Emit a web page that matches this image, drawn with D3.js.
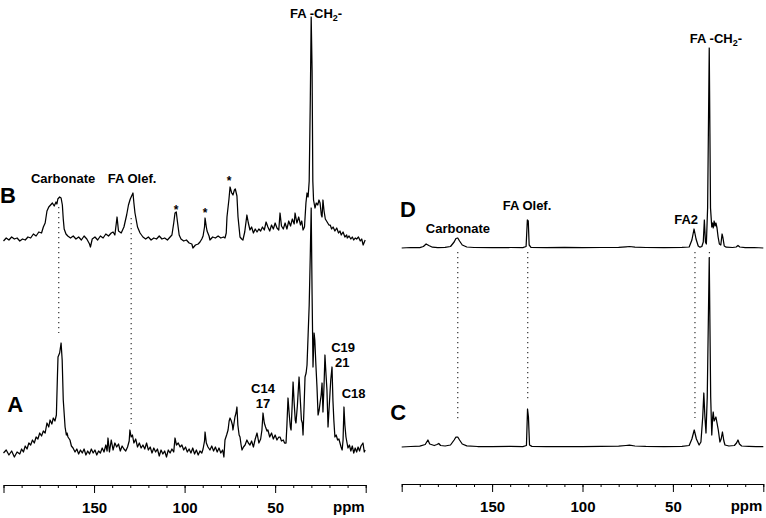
<!DOCTYPE html>
<html>
<head>
<meta charset="utf-8">
<script src="https://cdn.jsdelivr.net/npm/d3@7"></script>
<style>
  html, body { margin: 0; padding: 0; background: #fff; }
  svg { display: block; font-family: 'Liberation Sans', Arial, sans-serif; }
  .spec { fill: none; stroke: #000; stroke-width: 1.25; stroke-linejoin: round; }
  .guide { stroke: #333; stroke-width: 1.2; stroke-dasharray: 1.3 3.7; }
  .lbl { font-weight: bold; font-size: 13px; fill: #000; }
  .big { font-weight: bold; font-size: 22px; fill: #000; }
  .axis path, .axis line { stroke: #000; stroke-width: 1; }
  .axis text { font-weight: bold; font-size: 15px; fill: #000; font-family: 'Liberation Sans', Arial, sans-serif; }
</style>
</head>
<body>
<svg id="chart" width="766" height="518"></svg>
<script>
// ppm axis
const majorTicks = [200, 150, 100, 50, 0]
const majorLabels = ['', '150', '100', '50', '']
const minorTicks = [200, 190, 180, 170, 160, 150, 140, 130, 120, 110, 100, 90, 80, 70, 60, 50, 40, 30, 20, 10, 0]

// [ppm, intensity]
const spectrumB = [
  [200, 0], [198.5, 3], [197, 1], [195.5, 4], [194, 2], [192.5, 3], [191, 0], [189.5, 2], [188, 1], [186.5, 4],
  [185, 3], [183.5, 7], [182, 5], [180.5, 9], [179, 8], [178, 14], [177, 18], [176, 30], [175, 34], [174, 36],
  [173, 38], [172, 35], [171, 39], [170.5, 37], [170, 42], [169, 44], [168.2, 43], [167.5, 36], [167, 22], [166.5, 12],
  [165.5, 7], [164.5, 5], [163, 3], [161.5, 5], [160, 2], [158.5, 4], [157, 1], [155.5, 5], [154, 2], [152.5, -3],
  [152, -6], [151, 2], [149.5, 4], [148, 1], [146.5, 5], [145, 3], [143.5, 7], [142, 5], [140.5, 8], [139.5, 9],
  [138.5, 6], [137.3, 24], [136.5, 10], [135, 8], [133.5, 14], [132, 26], [131, 36], [130, 42], [129, 46], [128.5, 48],
  [128, 38], [127.4, 28], [126, 14], [124.6, 8], [123, 4], [121.5, 2], [120, 4], [118.5, 1], [117, 3], [115.5, 2],
  [114, 5], [112.5, 2], [111, 3], [109.5, 1], [108, 4], [107, 6], [106, 18], [105.3, 28], [104.6, 29], [104, 20],
  [103, 6], [102, 2], [100.5, 0], [99, 1], [97.5, -2], [96, -3], [95.4, -7], [94, -4], [92.5, -3], [91.5, -1],
  [90.5, 2], [89.8, 5], [89, 14], [88.7, 23], [88, 14], [87.6, 10], [86.5, 5], [86, 1], [84.5, 4], [83, 3],
  [81.5, 5], [80, 3], [78.5, 4], [77.7, 3], [77, 8], [76.6, 24], [75.5, 42], [74.9, 54], [74, 48], [73.3, 46],
  [72.5, 51], [72, 52], [71.1, 45], [70.5, 24], [69.4, 4], [68.5, 2], [67.8, 1], [66.8, 9], [65.6, 26], [64.8, 18],
  [63.9, 11], [63, 14], [62, 8], [61, 12], [60, 9], [59, 12], [58, 10], [57, 14], [56, 11], [55, 19],
  [54, 14], [53, 10], [52, 16], [51, 12], [50, 18], [49, 13], [48, 11], [47.3, 28], [46.5, 15], [45.5, 12],
  [44.5, 18], [43.5, 12], [42.5, 20], [41.5, 15], [40.5, 22], [39.5, 17], [39, 28], [38, 18], [37, 24], [36, 16],
  [35.3, 20], [34.6, 11], [33.8, 14], [33, 38], [32.4, 48], [31.8, 44], [31.2, 60], [30.6, 140], [30.1, 224], [29.6, 170],
  [29.2, 60], [28.8, 41], [28, 33], [27.3, 38], [26.5, 36], [25.8, 41], [25.2, 38], [24.5, 26], [24.1, 24], [23.6, 41],
  [23, 30], [22.3, 22], [21.3, 19], [20.3, 16], [19.6, 16], [18.8, 12], [18, 14], [17, 10], [16, 13], [15, 8],
  [14.2, 10], [13.5, 6], [12.5, 9], [11.5, 4], [10.5, 6], [10.2, 3], [9.2, 5], [8.2, 2], [7.4, 4], [6.6, 1],
  [5.8, 3], [5, 2], [4, 4], [3, 0], [2.2, 2], [1.4, -4], [0.3, 1]
]

const spectrumA = [
  [200, 2], [198.5, 5], [197, 0], [195.5, 4], [194, -2], [192.5, 3], [191, 1], [190, 6], [189, 3], [188, 9],
  [187, 6], [186, 12], [185, 10], [184, 15], [183, 12], [182, 18], [181, 16], [180, 22], [179, 19], [178, 24],
  [177, 22], [176, 32], [175, 28], [174.3, 35], [173.3, 31], [172.5, 37], [171.6, 34], [170.8, 40], [170.2, 80], [169.9, 98],
  [169, 102], [168.2, 112], [167.6, 95], [167, 55], [166, 28], [165.3, 20], [164.9, 22], [164.4, 18], [163.3, 15], [162.5, 9],
  [161.6, 7], [160.5, 3], [159.5, 6], [158.5, 1], [157.5, 5], [156.5, 2], [155.5, 6], [154.5, 0], [153.5, 4], [152.5, 1],
  [151.5, 6], [150.5, 2], [149.5, 5], [148.5, 0], [147.5, 4], [146.5, 2], [145.5, 7], [144.5, 3], [143.5, 10], [142.8, 4],
  [142.3, 17], [141.5, 3], [140.5, 15], [139.5, 5], [138.5, 12], [137.5, 8], [136.5, 11], [135.5, 4], [134.5, 9], [133.5, 6],
  [132.5, 4], [131.5, 8], [130.6, 14], [130.2, 25], [129.5, 18], [128.8, 20], [128, 12], [127, 16], [126, 8], [125, 12],
  [124, 7], [123, 10], [122, 6], [121, 12], [120, 5], [119, 8], [118, 2], [117, 7], [116, 3], [115, 6],
  [114, -1], [113, 5], [112, 1], [111, 4], [110, -2], [109, 5], [108, 2], [107, 6], [106, 3], [105.3, 17],
  [104.5, 10], [103.5, 12], [102.5, 8], [101.5, 10], [100.5, 5], [99.5, 8], [98.5, 3], [97.5, 6], [96.5, 2], [95.5, 7],
  [94.5, 1], [93.5, 5], [92.5, 0], [91.5, 4], [90.5, 2], [89.8, 6], [89, 14], [88.7, 23], [88, 12], [87.1, 8],
  [86, 5], [85, 9], [84, 4], [83, 8], [82, 3], [81, 7], [80, 2], [79, 5], [78.3, -2], [77.7, 15],
  [76.8, 20], [76, 25], [75.4, 34], [74.9, 37], [74.2, 34], [73.6, 30], [73.3, 25], [72.7, 32], [72.2, 38], [71.6, 42],
  [71.1, 48], [70.6, 30], [69.9, 20], [69.4, 18], [68.8, 10], [68.3, 5], [67.5, 8], [66.6, 10], [65.6, 15], [64.8, 12],
  [63.9, 10], [63, 14], [62, 8], [61, 16], [60, 22], [59, 12], [58, 16], [57.3, 25], [56.7, 42], [56, 32],
  [55.3, 28], [54.5, 24], [54, 25], [53, 18], [52, 22], [51, 16], [50, 20], [49, 15], [48, 18], [47.3, 18],
  [46.5, 14], [45.5, 15], [44.8, 12], [44, 12], [43.5, 30], [42.9, 57], [42.2, 40], [41.6, 28], [41.2, 25], [40.6, 50],
  [40.1, 73], [39.5, 52], [38.9, 35], [38.5, 32], [37.7, 50], [36.8, 78], [36.1, 55], [35.5, 35], [35, 32], [34.6, 20],
  [34, 50], [33.5, 78], [32.9, 82], [32.4, 90], [31.8, 120], [31.2, 150], [30.6, 200], [30.1, 247], [29.6, 160], [29.1, 88],
  [28.7, 110], [28.5, 122], [28.1, 115], [27.5, 90], [26.9, 68], [26.3, 40], [25.7, 45], [25.2, 52], [24.6, 60], [24.1, 72],
  [23.6, 43], [23, 70], [22.5, 100], [21.9, 80], [21.4, 65], [20.8, 28], [20.1, 50], [19.3, 75], [18.6, 88], [18.1, 55],
  [17.6, 35], [17, 18], [16.3, 20], [15.5, 15], [14.8, 16], [14.2, 12], [13.6, 8], [13, 5], [12.5, 15], [12, 48],
  [11.5, 30], [10.9, 18], [10.3, 12], [9.8, 7], [9, 10], [8.2, 4], [7.4, 9], [6.6, 2], [5.8, 7], [5, 3],
  [4.2, 8], [3.4, 4], [2.6, 9], [1.5, 12], [0.8, 3], [0.3, 5]
]

const spectrumD = [
  [200, 0], [195, 0.5], [190, 0.3], [188, 1.5], [186.5, 4], [185, 2.5], [183, 0.8], [180, 0.4], [176, 0.6], [173, 1.5],
  [171, 6], [170, 9.5], [169, 10], [168, 7], [166.5, 3], [164, 1], [160, 0.5], [150, 0.3], [140, 0.5], [133, 0.4],
  [131.2, 1.5], [130.5, 28], [130, 27], [129.5, 3], [128.5, 0.6], [120, 0.4], [110, 0.6], [100, 0.3], [90, 0.5], [80, 0.7],
  [76, 1.2], [74, 1.5], [71, 0.8], [65, 0.5], [55, 0.4], [45, 0.6], [41, 1], [39.5, 8], [38.3, 19], [37.2, 9],
  [36, 2], [35, 0.8], [34, 1.5], [33.2, 6], [32.6, 28], [32, 6], [31.5, 4], [30.8, 40], [29.9, 200], [29.2, 40],
  [28.5, 21], [28.1, 25], [27.7, 20], [27.2, 27], [26.7, 22], [26.2, 25], [25.6, 20], [25, 11], [24.3, 4], [23.5, 3],
  [22.8, 14], [22.3, 10], [21.6, 2], [20.5, 0.8], [17, 0.5], [15, 1], [14, 2.5], [13, 1], [10, 0.3], [5, 0.5], [0, 0]
]

const spectrumC = [
  [200, 0], [195, 0.5], [190, 0.8], [187, 2.5], [185.5, 7], [184.5, 3], [182, 1.5], [180.5, 2.5], [179.5, 3.5], [178.5, 1.5],
  [176, 1], [173, 2], [171, 7], [170, 10], [169, 10], [168, 7], [166.5, 3], [164, 1.2], [158, 0.5], [150, 0.4],
  [140, 0.6], [133, 0.4], [131, 1.5], [130.4, 38], [129.9, 30], [129.3, 2], [128, 0.6], [120, 0.4], [110, 0.5], [100, 0.4],
  [90, 0.6], [80, 0.8], [76, 1.5], [74, 1.8], [71, 1], [65, 0.6], [55, 0.5], [45, 0.7], [41, 1.5], [39.5, 8],
  [38.2, 17], [37, 8], [35.5, 2], [34.5, 5], [33.5, 30], [32.9, 54], [32.3, 30], [31.7, 14], [31, 50], [29.9, 189],
  [29.1, 50], [28.5, 12], [28, 30], [27.7, 35], [27.2, 26], [26.7, 28], [26.2, 30], [25.6, 24], [24.9, 17], [24, 5],
  [23.3, 8], [22.6, 15], [21.8, 6], [21.2, 2], [19, 1], [16, 1.5], [14.8, 4], [14, 7], [13.2, 3], [12, 1],
  [8, 0.6], [4, 0.3], [0, 0.4]
]

// guide lines (ppm)
const guidesLeft = [169.5, 129.5]
const guidesRight = [169, 130.3, 37.8, 29.8]

const svg = d3.select('#chart')

const xLeft = d3.scaleLinear().domain([200, 0]).range([3.5, 365.7])
const xRight = d3.scaleLinear().domain([200, 0]).range([401.7, 763.3])

const yB = d3.scaleLinear().domain([0, 224]).range([241, 17])
const yA = d3.scaleLinear().domain([0, 247]).range([455, 208])
const yD = d3.scaleLinear().domain([0, 200]).range([248, 48])
const yC = d3.scaleLinear().domain([0, 189]).range([447, 258])

function drawSpectrum(data, x, y) {
  const line = d3.line()
      .x(d => x(d[0]))
      .y(d => y(d[1]))

  svg.append('path')
      .datum(data)
      .attr('class', 'spec')
      .attr('d', line)
}

function drawGuide(x, ppm, y1, y2) {
  svg.append('line')
      .attr('class', 'guide')
      .attr('x1', x(ppm))
      .attr('x2', x(ppm))
      .attr('y1', y1)
      .attr('y2', y2)
}

function drawAxis(x, yPos) {
  const g = svg.append('g')
      .attr('class', 'axis')
      .attr('transform', `translate(0,${yPos})`)

  g.append('g')
      .call(d3.axisBottom(x).tickValues(minorTicks).tickSize(3).tickSizeOuter(0).tickFormat(''))

  const major = g.append('g')
      .call(d3.axisBottom(x).tickValues(majorTicks).tickSize(8).tickSizeOuter(0)
        .tickFormat((d, i) => majorLabels[i]))

  major.selectAll('text')
      .attr('y', 28)
      .attr('dy', 0)

  g.append('text')
      .attr('x', x(0) - 1)
      .attr('y', 27)
      .attr('text-anchor', 'end')
      .style('font-weight', 'bold')
      .style('font-size', '15px')
      .text('ppm')
}

function label(x, y, text, cls = 'lbl', anchor = 'middle') {
  return svg.append('text')
      .attr('class', cls)
      .attr('x', x)
      .attr('y', y)
      .attr('text-anchor', anchor)
      .text(text)
}

function ch2Label(x, y) {
  const t = svg.append('text')
      .attr('class', 'lbl')
      .attr('x', x)
      .attr('y', y)
      .attr('text-anchor', 'middle')
  t.append('tspan').text('FA -CH')
  t.append('tspan').attr('dy', 3).style('font-size', '9px').text('2')
  t.append('tspan').attr('dy', -3).text('-')
}

// guides first so spectra sit on top
drawGuide(xLeft, guidesLeft[0], 207, 333)
drawGuide(xLeft, guidesLeft[1], 218, 424)
drawGuide(xRight, guidesRight[0], 252, 421)
drawGuide(xRight, guidesRight[1], 252, 401)
drawGuide(xRight, guidesRight[2], 252, 418)
drawGuide(xRight, guidesRight[3], 252, 259)

drawSpectrum(spectrumB, xLeft, yB)
drawSpectrum(spectrumA, xLeft, yA)
drawSpectrum(spectrumD, xRight, yD)
drawSpectrum(spectrumC, xRight, yC)

drawAxis(xLeft, 485)
drawAxis(xRight, 484)

// left panel labels
ch2Label(xLeft(27.4), 18)
label(xLeft(197.6), 203, 'B', 'big')
label(xLeft(193.5), 412, 'A', 'big')
label(xLeft(167.1), 183, 'Carbonate')
label(xLeft(129), 183, 'FA Olef.')
label(xLeft(104.7), 214, '*').style('font-size', '12px')
label(xLeft(88.7), 217, '*').style('font-size', '12px')
label(xLeft(75.5), 185, '*').style('font-size', '12px')
label(xLeft(56.7), 393, 'C14')
label(xLeft(56.7), 408, '17')
label(xLeft(12.5), 352, 'C19')
label(xLeft(13), 367, '21')
label(xLeft(6.7), 398, 'C18')

// right panel labels
ch2Label(xRight(26.2), 43)
label(xRight(196.5), 217, 'D', 'big')
label(xRight(202), 420, 'C', 'big')
label(xRight(168.9), 233, 'Carbonate')
label(xRight(130.7), 210, 'FA Olef.')
label(xRight(42.7), 224, 'FA2')
</script>
</body>
</html>
